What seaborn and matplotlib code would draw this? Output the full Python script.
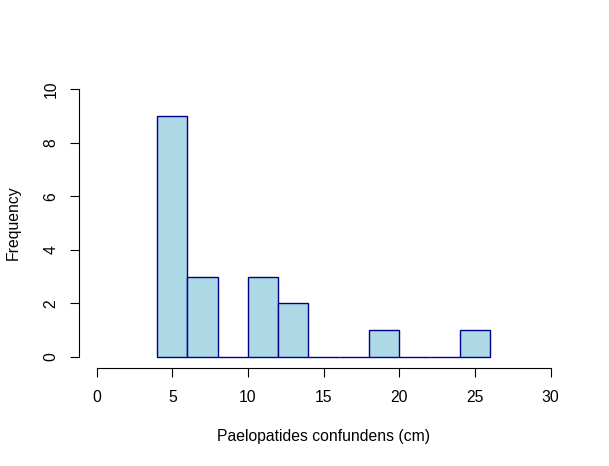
import numpy as np
import pandas as pd
import matplotlib
matplotlib.use('Agg')
import matplotlib.pyplot as plt
import seaborn as sns

# histogram bins (cm) and counts
bin_edges = [4, 6, 8, 10, 12, 14, 16, 18, 20, 22, 24, 26]
counts = [9, 3, 0, 3, 2, 0, 0, 1, 0, 0, 1]
x_ticks = [0, 5, 10, 15, 20, 25, 30]
y_ticks = [0, 2, 4, 6, 8, 10]

centers = [(a + b) / 2 for a, b in zip(bin_edges[:-1], bin_edges[1:])]
df = pd.DataFrame({'length': centers, 'n': counts})

sns.set_style('white')
plt.rcParams['font.family'] = ['Liberation Sans', 'DejaVu Sans']
plt.rcParams['text.color'] = 'black'
plt.rcParams['xtick.color'] = 'black'
plt.rcParams['ytick.color'] = 'black'

fs = 11.3
fig = plt.figure(figsize=(6.09, 4.66), dpi=100)
ax = fig.add_axes([0.1289, 0.211, 0.805, 0.621])

sns.histplot(data=df, x='length', weights='n', bins=bin_edges,
             color='#ADD8E6', edgecolor='#00008B', linewidth=1,
             alpha=1, ax=ax)

ax.set_xlim(-1.2, 31.2)
ax.set_ylim(-0.4, 10.4)
ax.set_xticks(x_ticks)
ax.set_yticks(y_ticks)
ax.set_yticklabels([str(v) for v in y_ticks], rotation=90, va='center')
for s in ['top', 'right']:
    ax.spines[s].set_visible(False)
ax.spines['left'].set_bounds(0, 10)
ax.spines['bottom'].set_bounds(0, 30)
for s in ['left', 'bottom']:
    ax.spines[s].set_color('black')
    ax.spines[s].set_linewidth(0.8)
ax.tick_params(axis='both', which='both', direction='out', length=6.5,
               width=0.8, color='black', labelsize=fs, left=True, bottom=True)
ax.tick_params(axis='x', pad=9.5)
ax.tick_params(axis='y', pad=8)
ax.set_xlabel('')
ax.set_ylabel('')
fig.text(323.5 / 609, 1 - 437 / 466, 'Paelopatides confundens (cm)',
         fontsize=fs, ha='center', va='center')
fig.text(13.5 / 609, 1 - 223 / 466, 'Frequency', fontsize=fs,
         rotation=90, ha='center', va='center')

fig.savefig('out.png', dpi=100)
